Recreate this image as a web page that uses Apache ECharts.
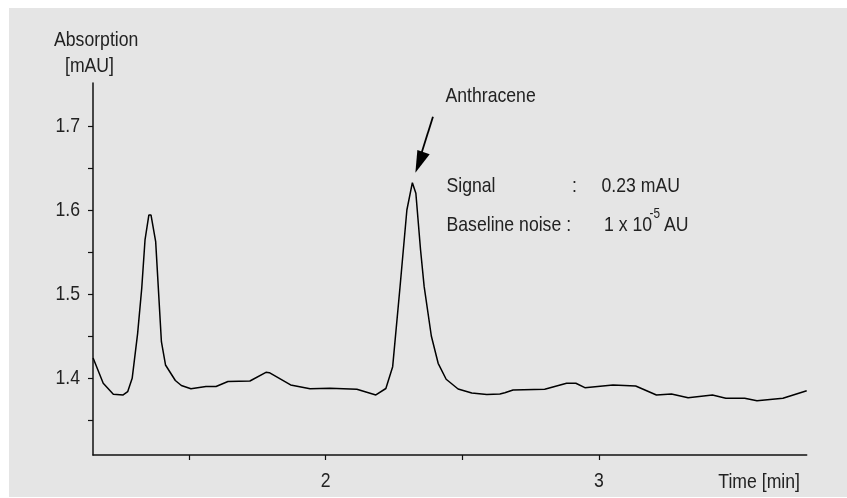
<!DOCTYPE html>
<html>
<head>
<meta charset="utf-8">
<script src="https://cdn.jsdelivr.net/npm/echarts@6/dist/echarts.min.js"></script>
<style>
html,body{margin:0;padding:0;background:#ffffff;}
#chart{width:847px;height:498px;}
</style>
</head>
<body>
<div id="chart"></div>
<script>
// ---- data ----
var timeMin = [1.149,1.186,1.223,1.259,1.2755,1.292,1.312,1.327,1.339,1.353,1.361,1.378,1.399,1.414,1.450,1.472,1.507,1.562,1.599,1.6425,1.723,1.7816,1.794,1.872,1.943,2.016,2.1145,2.184,2.2206,2.2455,2.272,2.2975,2.3176,2.3304,2.3476,2.3608,2.387,2.412,2.4413,2.485,2.535,2.590,2.638,2.656,2.686,2.802,2.882,2.916,2.949,3.052,3.135,3.211,3.266,3.327,3.416,3.465,3.534,3.579,3.674,3.761];
var absorption = [1.4238,1.3937,1.3806,1.3798,1.3837,1.3996,1.4532,1.5068,1.5643,1.5940,1.5940,1.5623,1.4432,1.4155,1.3970,1.3911,1.3873,1.3899,1.3899,1.3958,1.3964,1.4068,1.4063,1.3917,1.3873,1.3879,1.3865,1.3798,1.3875,1.4135,1.5068,1.6000,1.6325,1.6199,1.5524,1.5087,1.4500,1.4175,1.3985,1.3869,1.3821,1.3804,1.3810,1.3825,1.3857,1.3865,1.3937,1.3937,1.3885,1.3917,1.3905,1.3798,1.3810,1.3765,1.3798,1.3758,1.3758,1.3730,1.3758,1.3849];
var yTicks = [1.35,1.4,1.45,1.5,1.55,1.6,1.65,1.7];
var yLabels = [1.4,1.5,1.6,1.7];
var xTicks = [1.5,2,2.5,3];
var xLabels = [2,3];
var peakTime = 2.3176, peakValue = 1.6325;

var FONT = "'Liberation Sans',Arial,sans-serif";
var TXT = '#222222';
var SX = 0.84; // condensed look

var chart = echarts.init(document.getElementById('chart'), null, {renderer:'canvas'});
var points = timeMin.map(function(t,i){return [t, absorption[i]];});

var option = {
  animation:false,
  backgroundColor:'#ffffff',
  grid:{left:93,right:40.3,top:83,bottom:43,containLabel:false},
  xAxis:{
    type:'value', min:1.1486, max:3.761,
    axisLine:{show:true,onZero:false,lineStyle:{color:'#111',width:1.5}},
    axisTick:{show:true,inside:false,length:5,customValues:xTicks,lineStyle:{color:'#111',width:1.2}},
    axisLabel:{show:false},
    splitLine:{show:false}
  },
  yAxis:{
    type:'value', min:1.30833, max:1.75119,
    axisLine:{show:true,onZero:false,lineStyle:{color:'#111',width:1.5}},
    axisTick:{show:true,inside:false,length:5,customValues:yTicks,lineStyle:{color:'#111',width:1.2}},
    axisLabel:{show:false},
    splitLine:{show:false}
  },
  series:[{
    type:'line', data:points, showSymbol:false, symbol:'none', smooth:false,
    lineStyle:{color:'#000',width:1.5}, silent:true
  }]
};
chart.setOption(option);

function txt(s, x, y, size, align){
  return {type:'text', x:x, y:y, scaleX:SX, silent:true,
    style:{text:s, fill:TXT, font:size+'px '+FONT, textAlign:align||'left', textVerticalAlign:'middle'}};
}

var g = [{type:'rect',z:-10,silent:true,shape:{x:9,y:8,width:838,height:489},style:{fill:'#e5e5e5'}}];

// tick labels through the axes
yLabels.forEach(function(v){
  var p = chart.convertToPixel({gridIndex:0},[1.1486, v]);
  g.push(txt(v.toFixed(1), 80, p[1], 21, 'right'));
});
xLabels.forEach(function(v){
  var p = chart.convertToPixel({gridIndex:0},[v, 1.30833]);
  g.push(txt(String(v), p[0], 481, 21, 'center'));
});

// axis titles
g.push(txt('Absorption', 54, 40, 21));
g.push(txt('[mAU]', 65, 66, 21));
g.push(txt('Time [min]', 800, 482, 21, 'right'));

// annotations placed relative to the peak
var pk = chart.convertToPixel({gridIndex:0},[peakTime,peakValue]);
var tipX = pk[0]+3, tipY = pk[1]-10;
g.push({type:'line',shape:{x1:tipX+17.6,y1:tipY-56,x2:tipX+5,y2:tipY-16},style:{stroke:'#000',lineWidth:1.8}});
g.push({type:'polygon',shape:{points:[[tipX,tipY],[tipX+2,tipY-22.7],[tipX+14.3,tipY-18.4]]},style:{fill:'#000'}});
g.push(txt('Anthracene', 445.5, 96, 21));
g.push(txt('Signal', 446.5, 186, 21));
g.push(txt(':', 572, 186, 21));
g.push(txt('0.23 mAU', 601.5, 186, 21));
g.push(txt('Baseline noise :', 446.5, 225, 21));
g.push(txt('1 x 10', 604, 225, 21));
g.push(txt('-5', 649.5, 214, 14));
g.push(txt('AU', 664, 225, 21));

chart.setOption({graphic:g});
</script>
</body>
</html>
